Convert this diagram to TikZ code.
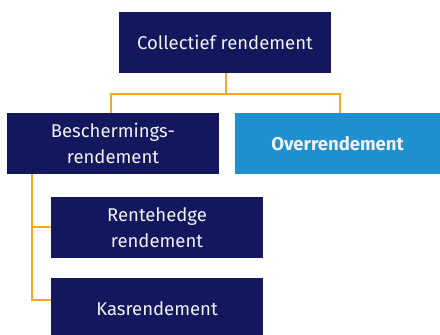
\documentclass[tikz,border=0pt]{standalone}
\usepackage{fontspec}
\setmainfont{Fira Sans}
\definecolor{navy}{HTML}{13175E}
\definecolor{sky}{HTML}{1E90D0}
\definecolor{amber}{HTML}{F5A623}
\begin{document}
\begin{tikzpicture}[x=1pt,y=-1pt,
  box/.style={rectangle,fill=navy,text=white!94!black,minimum width=212pt,minimum height=61pt,inner sep=0pt,align=center,font=\fontsize{18.5}{26}\selectfont},
  link/.style={draw=amber,line width=2.7pt}]
\useasboundingbox (0,0) rectangle (440,335);
\node[box] (top) at (225,42.5) {Collectief rendement};
\node[box] (besch) at (113,143.5) {Beschermings-\\rendement};
\node[box,fill=sky,minimum width=205pt,font=\fontsize{18.5}{26}\selectfont\bfseries] (over) at (337.5,143.5) {Overrendement};
\node[box] (rente) at (157,227.5) {Rentehedge\\rendement};
\node[box] (kas) at (157,308.5) {Kasrendement};
\coordinate (j) at (226,94);
\coordinate (jl) at (111,94);
\coordinate (jr) at (340,94);
\draw[link] (top.south -| j) -- (j);
\draw[link] (besch.north -| jl) -- (jl) -- (jr) -- (over.north -| jr);
\coordinate (v) at (32,174);
\draw[link] (v) -- (32,300) -- (kas.west |- 0,300);
\draw[link] (32,227) -- (rente.west |- 0,227);
\end{tikzpicture}
\end{document}
